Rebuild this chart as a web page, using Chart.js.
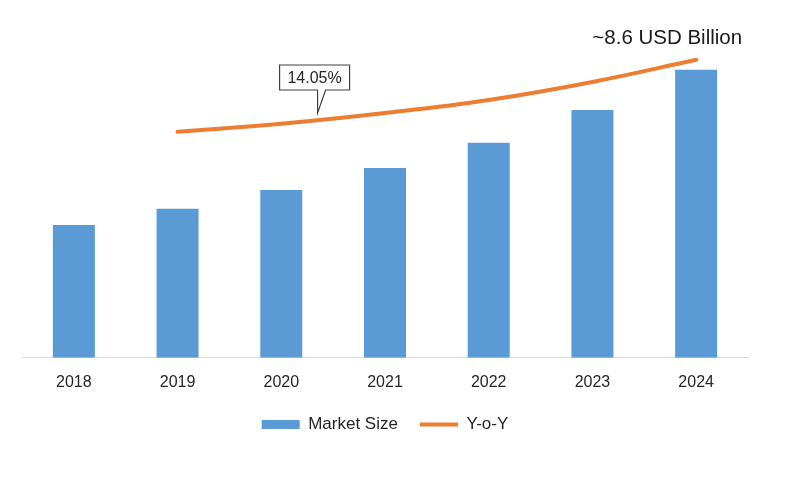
<!DOCTYPE html>
<html>
<head>
<meta charset="utf-8">
<script src="https://cdn.jsdelivr.net/npm/chart.js@4"></script>
<style>
  html, body { margin: 0; padding: 0; background: #ffffff; }
  #wrap { width: 800px; height: 490px; }
</style>
</head>
<body>
<div id="wrap"><canvas id="c" width="800" height="490"></canvas></div>
<script>
const years = ['2018', '2019', '2020', '2021', '2022', '2023', '2024'];
const marketSize = [3.97, 4.45, 5.01, 5.67, 6.42, 7.40, 8.6];
const yoyIndex = [null, 67.5, 69.9, 73.1, 77.0, 82.4, 89.0];
const cagrLabel = '14.05%';
const endLabel = '~8.6 USD Billion';

const FONT = "'Liberation Sans', Arial, sans-serif";

const annotations = {
  id: 'annotations',
  afterDatasetsDraw(chart) {
    const ctx = chart.ctx;
    const xs = chart.scales.x;
    const area = chart.chartArea;
    const step = xs.getPixelForValue(1) - xs.getPixelForValue(0);
    // callout anchored between 2020 and 2021
    const tipX = xs.getPixelForValue(1) + 1.35 * step;
    const tipY = area.top + 90;
    const bx = tipX - 38, by = area.top + 42, bw = 70, bh = 25;
    ctx.save();
    ctx.beginPath();
    ctx.moveTo(bx, by);
    ctx.lineTo(bx + bw, by);
    ctx.lineTo(bx + bw, by + bh);
    ctx.lineTo(tipX + 8, by + bh);
    ctx.lineTo(tipX, tipY);
    ctx.lineTo(tipX, by + bh);
    ctx.lineTo(bx, by + bh);
    ctx.closePath();
    ctx.fillStyle = '#ffffff';
    ctx.fill();
    ctx.strokeStyle = '#404040';
    ctx.lineWidth = 1.2;
    ctx.stroke();
    ctx.fillStyle = '#262626';
    ctx.font = '16px ' + FONT;
    ctx.textAlign = 'center';
    ctx.textBaseline = 'middle';
    ctx.fillText(cagrLabel, bx + bw / 2, by + bh / 2 + 1);

    // end label near last bar
    const lastX = xs.getPixelForValue(years.length - 1);
    ctx.font = '20.5px ' + FONT;
    ctx.textAlign = 'right';
    ctx.textBaseline = 'middle';
    ctx.fillStyle = '#1a1a1a';
    ctx.fillText(endLabel, lastX + 46, area.top + 15);
    ctx.restore();
  }
};

new Chart(document.getElementById('c'), {
  data: {
    labels: years,
    datasets: [
      {
        type: 'line',
        label: 'Y-o-Y',
        data: yoyIndex,
        yAxisID: 'y1',
        borderColor: '#ED7D31',
        backgroundColor: '#ED7D31',
        borderWidth: 4,
        borderCapStyle: 'round',
        pointRadius: 0,
        tension: 0.4,
        spanGaps: false,
        order: 0
      },
      {
        type: 'bar',
        label: 'Market Size',
        data: marketSize,
        yAxisID: 'y',
        backgroundColor: '#5B9BD5',
        borderWidth: 0,
        barPercentage: 0.405,
        categoryPercentage: 1.0,
        order: 1
      }
    ]
  },
  options: {
    responsive: false,
    animation: false,
    layout: { padding: { left: 22, right: 52, top: 23, bottom: 47 } },
    scales: {
      x: {
        grid: { display: false, drawTicks: false },
        border: { display: true, color: '#d9d9d9', width: 1 },
        ticks: { color: '#262626', font: { family: FONT, size: 16 }, padding: 15 },
        afterFit(scale) { scale.height -= 13; }
      },
      y: { display: false, min: 0, max: 10 },
      y1: { display: false, min: 0, max: 100 }
    },
    plugins: {
      tooltip: { enabled: false },
      legend: {
        position: 'bottom',
        labels: {
          color: '#262626',
          font: { family: FONT, size: 17 },
          usePointStyle: true,
          pointStyleWidth: 38,
          boxHeight: 9,
          padding: 22,
          generateLabels(chart) {
            const ds = chart.data.datasets;
            return [
              { text: ds[1].label, fillStyle: '#5B9BD5', strokeStyle: '#5B9BD5', lineWidth: 0, pointStyle: 'rect', datasetIndex: 1, fontColor: '#262626' },
              { text: ds[0].label, fillStyle: '#ED7D31', strokeStyle: '#ED7D31', lineWidth: 4, pointStyle: 'line', datasetIndex: 0, fontColor: '#262626' }
            ];
          }
        }
      }
    }
  },
  plugins: [annotations]
});
</script>
</body>
</html>
